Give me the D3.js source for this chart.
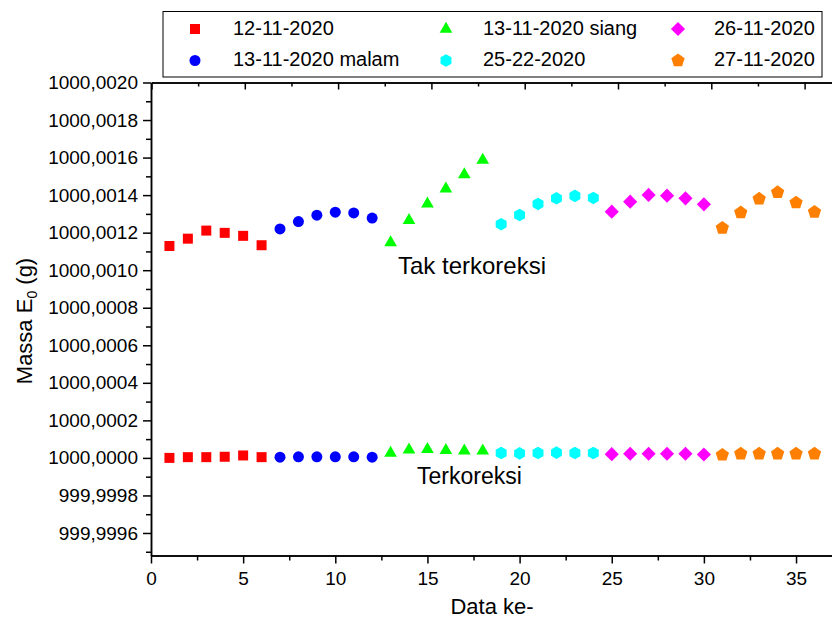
<!DOCTYPE html>
<html lang="id">
<head>
    <meta charset="UTF-8">
    <title>Massa E0</title>
    <script src="https://d3js.org/d3.v7.min.js"></script>
    <style>
        body {
            margin: 0;
            padding: 0;
            background: #fff;
            font-family: 'Liberation Sans', Arial, sans-serif;
        }
        text { fill: #000; }
    </style>
</head>
<body>
    <script>
        // Data: nomor data ke- dan massa (g) per seri
        const seriesNames = ["12-11-2020", "13-11-2020 malam", "13-11-2020 siang", "25-22-2020", "26-11-2020", "27-11-2020"];
        const seriesStart = [1, 7, 13, 19, 25, 31];

        // Tak terkoreksi
        const tak_12_11 = [1000.001129, 1000.001168, 1000.001211, 1000.001199, 1000.001183, 1000.001133];
        const tak_13_11_malam = [1000.001220, 1000.001259, 1000.001293, 1000.001309, 1000.001305, 1000.001278];
        const tak_13_11_siang = [1000.001147, 1000.001266, 1000.001353, 1000.001434, 1000.001509, 1000.001587];
        const tak_25_22 = [1000.001245, 1000.001294, 1000.001353, 1000.001383, 1000.001396, 1000.001385];
        const tak_26_11 = [1000.001312, 1000.001365, 1000.001401, 1000.001397, 1000.001383, 1000.001351];
        const tak_27_11 = [1000.001225, 1000.001307, 1000.001380, 1000.001415, 1000.001360, 1000.001310];

        // Terkoreksi
        const kor_12_11 = [1000.000000, 1000.000004, 1000.000004, 1000.000006, 1000.000013, 1000.000004];
        const kor_13_11_malam = [1000.000004, 1000.000006, 1000.000006, 1000.000006, 1000.000006, 1000.000004];
        const kor_13_11_siang = [1000.000026, 1000.000043, 1000.000045, 1000.000040, 1000.000038, 1000.000038];
        const kor_25_22 = [1000.000026, 1000.000024, 1000.000026, 1000.000028, 1000.000026, 1000.000026];
        const kor_26_11 = [1000.000020, 1000.000022, 1000.000022, 1000.000022, 1000.000022, 1000.000018];
        const kor_27_11 = [1000.000016, 1000.000022, 1000.000022, 1000.000022, 1000.000022, 1000.000022];

        const takTerkoreksi = [tak_12_11, tak_13_11_malam, tak_13_11_siang, tak_25_22, tak_26_11, tak_27_11];
        const terkoreksi = [kor_12_11, kor_13_11_malam, kor_13_11_siang, kor_25_22, kor_26_11, kor_27_11];

        // Tick
        const xMajor = [0, 5, 10, 15, 20, 25, 30, 35];
        const xMinor = [2.5, 7.5, 12.5, 17.5, 22.5, 27.5, 32.5];
        const yMajor = d3.range(-4, 21, 2).map(i => 1000 + i * 1e-4);
        const yMinor = d3.range(-5, 20, 2).map(i => 1000 + i * 1e-4);

        // Gaya tiap seri
        const colors = ["#ff0000", "#0000ff", "#00ff00", "#00ffff", "#ff00ff", "#ff8000"];

        const width = 832, height = 630;
        const svg = d3.select("body").append("svg")
            .attr("width", width)
            .attr("height", height)
            .style("display", "block");

        const x = d3.scaleLinear().domain([0, 37]).range([151, 832.9]);
        const xTop = d3.scaleLinear().domain([0, 37]).range([151.5, 151.5 + 37 * 18.66]);
        const y = d3.scaleLinear().domain([999.99948, 1000.0020]).range([555.5, 82.5]);

        const fmt = v => d3.format(".4f")(v).replace(".", ",");

        // Bentuk simbol
        function polygon(n, r, rot) {
            const pts = d3.range(n).map(k => {
                const a = rot + k * 2 * Math.PI / n;
                return [r * Math.sin(a), -r * Math.cos(a)];
            });
            return "M" + pts.map(p => p[0].toFixed(2) + "," + p[1].toFixed(2)).join("L") + "Z";
        }
        const shapes = [
            { d: d3.symbol(d3.symbolSquare, 100)(), rot: 0 },
            { d: d3.symbol(d3.symbolCircle, 95)(), rot: 0 },
            { d: d3.symbol(d3.symbolTriangle, 70)(), rot: 0 },
            { d: polygon(6, 6.3, 0), rot: 0 },
            { d: d3.symbol(d3.symbolSquare, 100)(), rot: 45 },
            { d: polygon(5, 7, 0), rot: 0 }
        ];

        // Sumbu
        function styleAxis(g) {
            g.select(".domain").attr("stroke", "#000").attr("stroke-width", 1.5);
            g.selectAll(".tick line").attr("stroke", "#000").attr("stroke-width", 1.5);
            g.selectAll("text").attr("font-family", "'Liberation Sans', Arial, sans-serif").attr("fill", "#000");
        }

        const gx = svg.append("g").attr("transform", "translate(0,555.5)")
            .call(d3.axisBottom(x).tickValues(xMajor).tickSize(8).tickSizeOuter(0).tickFormat(d3.format("d")))
            .call(styleAxis);
        gx.selectAll("text").attr("font-size", 19).attr("y", 29).attr("dy", 0);
        svg.append("g").attr("transform", "translate(0,555.5)")
            .call(d3.axisBottom(x).tickValues(xMinor).tickSize(5).tickSizeOuter(0).tickFormat(""))
            .call(styleAxis);

        // sumbu atas, tick ke dalam
        svg.append("g").attr("transform", "translate(0,82.5)")
            .call(d3.axisBottom(xTop).tickValues(xMajor).tickSize(7).tickSizeOuter(0).tickFormat(""))
            .call(styleAxis);
        svg.append("g").attr("transform", "translate(0,82.5)")
            .call(d3.axisBottom(xTop).tickValues(xMinor).tickSize(4).tickSizeOuter(0).tickFormat(""))
            .call(styleAxis);

        const gy = svg.append("g").attr("transform", "translate(151,0)")
            .call(d3.axisLeft(y).tickValues(yMajor).tickSize(8).tickSizeOuter(0).tickFormat(fmt))
            .call(styleAxis);
        gy.selectAll("text").attr("font-size", 19).attr("x", -13);
        svg.append("g").attr("transform", "translate(151,0)")
            .call(d3.axisLeft(y).tickValues(yMinor).tickSize(5).tickSizeOuter(0).tickFormat(""))
            .call(styleAxis);

        // Titik data
        const points = [];
        [takTerkoreksi, terkoreksi].forEach(group => {
            group.forEach((vals, s) => {
                vals.forEach((v, i) => points.push({ s: s, n: seriesStart[s] + i, v: v }));
            });
        });

        svg.append("g")
            .selectAll("path")
            .data(points)
            .enter()
            .append("path")
            .attr("d", d => shapes[d.s].d)
            .attr("fill", d => colors[d.s])
            .attr("transform", d => `translate(${x(d.n)},${y(d.v)}) rotate(${shapes[d.s].rot})`);

        // Keterangan dalam grafik
        svg.append("text").attr("x", 398).attr("y", 274).attr("font-size", 24).text("Tak terkoreksi");
        svg.append("text").attr("x", 417).attr("y", 484).attr("font-size", 23).text("Terkoreksi");

        // Judul sumbu
        svg.append("text").attr("x", 492).attr("y", 614).attr("font-size", 22)
            .attr("text-anchor", "middle").text("Data ke-");

        const yt = svg.append("text")
            .attr("transform", "translate(32,321) rotate(-90)")
            .attr("font-size", 22)
            .attr("text-anchor", "middle");
        yt.append("tspan").text("Massa E");
        yt.append("tspan").attr("font-size", 14).attr("dy", 5).text("0");
        yt.append("tspan").attr("dy", -5).text(" (g)");

        // Legenda
        const legend = svg.append("g");
        legend.append("rect")
            .attr("x", 163).attr("y", 11.5).attr("width", 659).attr("height", 65.5)
            .attr("fill", "#fff").attr("stroke", "#000").attr("stroke-width", 1);

        const legendPos = [
            { mx: 195, tx: 233, my: 29, ty: 35 },
            { mx: 195, tx: 233, my: 60.5, ty: 66 },
            { mx: 446, tx: 483, my: 29, ty: 35 },
            { mx: 446, tx: 483, my: 60.5, ty: 66 },
            { mx: 678, tx: 714, my: 29, ty: 35 },
            { mx: 678, tx: 714, my: 60.5, ty: 66 }
        ];

        seriesNames.forEach((name, s) => {
            const p = legendPos[s];
            legend.append("path")
                .attr("d", shapes[s].d)
                .attr("fill", colors[s])
                .attr("transform", `translate(${p.mx},${p.my}) rotate(${shapes[s].rot})`);
            legend.append("text")
                .attr("x", p.tx).attr("y", p.ty)
                .attr("font-size", 20)
                .text(name);
        });
    </script>
</body>
</html>
